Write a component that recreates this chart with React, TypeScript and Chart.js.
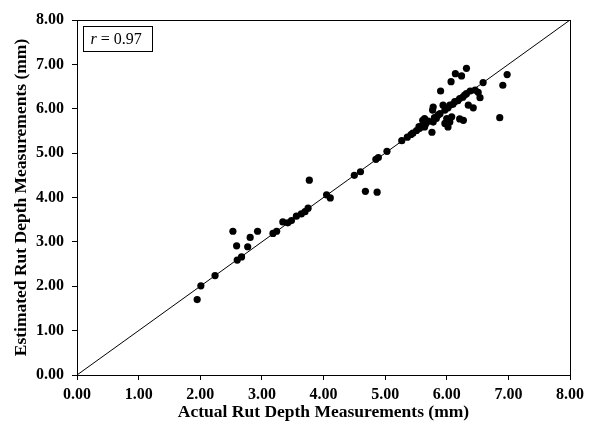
import React, { useEffect, useRef } from "react";
import { Chart, registerables } from "chart.js";

Chart.register(...registerables);

const actual = [
  1.95, 2.01, 2.24, 2.53, 2.59, 2.6, 2.67, 2.77, 2.81, 2.93, 3.18, 3.24, 3.34, 3.42, 3.48, 3.56, 3.64, 3.7, 3.75,
  3.77, 4.05, 4.11, 4.5, 4.6, 4.68, 4.87, 4.85, 4.89, 5.03, 5.27, 5.36, 5.42, 5.51, 5.56, 5.6, 5.62, 5.61, 5.64,
  5.62, 5.64, 5.66, 5.76, 5.78, 5.77, 5.78, 5.83, 5.8, 5.86, 5.9, 5.89, 5.94, 5.97, 5.97, 6.0, 6.02, 6.02, 6.05,
  6.07, 6.08, 6.1, 6.14, 6.13, 6.18, 6.21, 6.21, 6.24, 6.26, 6.27, 6.29, 6.32, 6.32, 6.35, 6.38, 6.43, 6.46, 6.51,
  6.54, 6.59, 6.86, 6.91, 6.98, 5.7, 5.55, 5.45, 6.05,
];
const estimated = [
  1.7, 2.01, 2.24, 3.24, 2.91, 2.59, 2.66, 2.89, 3.1, 3.24, 3.19, 3.24, 3.45, 3.43, 3.48, 3.58, 3.63, 3.68, 3.76,
  4.39, 4.06, 3.99, 4.5, 4.58, 4.14, 4.12, 4.86, 4.9, 5.04, 5.28, 5.36, 5.42, 5.51, 5.56, 5.6, 5.65, 5.74, 5.78,
  5.7, 5.59, 5.66, 5.47, 6.04, 5.97, 5.7, 5.78, 5.8, 5.86, 6.4, 5.89, 6.08, 5.97, 5.67, 5.78, 5.59, 6.02, 6.08,
  6.61, 5.82, 6.1, 6.79, 6.16, 6.18, 6.23, 5.77, 6.74, 6.26, 5.74, 6.31, 6.91, 6.34, 6.08, 6.4, 6.02, 6.42, 6.37,
  6.25, 6.59, 5.8, 6.53, 6.77, 5.72, 5.6, 5.45, 5.7,
];
const lineEnds = [0, 8];
const correlationLabel = "0.97";
const xTitle = "Actual Rut Depth Measurements (mm)";
const yTitle = "Estimated Rut Depth Measurements (mm)";

const FONT = "'Liberation Serif', 'Times New Roman', serif";

export default function App() {
  const ref = useRef<HTMLCanvasElement>(null);
  useEffect(() => {
    if (!ref.current) return;
    const framePlugin = {
      id: "frame",
      afterDraw(chart: any) {
        const { ctx, chartArea } = chart;
        ctx.save();
        ctx.strokeStyle = "#000";
        ctx.lineWidth = 1;
        ctx.strokeRect(Math.round(chartArea.left) + 0.5, Math.round(chartArea.top) + 0.5,
          Math.round(chartArea.right - chartArea.left), Math.round(chartArea.bottom - chartArea.top));
        // r box
        const bx = Math.round(chartArea.left) + 6.5;
        const by = Math.round(chartArea.top) + 6.5;
        const bw = 69;
        const bh = 25;
        ctx.fillStyle = "#fff";
        ctx.fillRect(bx, by, bw, bh);
        ctx.strokeRect(bx, by, bw, bh);
        ctx.fillStyle = "#000";
        ctx.textBaseline = "middle";
        ctx.textAlign = "left";
        ctx.font = `italic 16px ${FONT}`;
        const tx = bx + 7;
        const ty = by + bh / 2 + 1;
        ctx.fillText("r", tx, ty);
        const rw = ctx.measureText("r").width;
        ctx.font = `16px ${FONT}`;
        ctx.fillText(" = " + correlationLabel, tx + rw, ty);
        ctx.restore();
      },
    };
    const axisCommon = {
      type: "linear" as const,
      min: 0,
      max: 8,
      ticks: {
        stepSize: 1,
        color: "#000",
        font: { family: FONT, size: 16, weight: "bold" as const },
        callback: (v: any) => Number(v).toFixed(2),
      },
      grid: { drawOnChartArea: false, drawTicks: true, tickLength: 5, color: "#000" },
      border: { display: true, color: "#000", width: 1 },
    };
    const chart = new Chart(ref.current, {
      type: "scatter",
      data: {
        datasets: [
          {
            type: "line",
            data: lineEnds.map((v) => ({ x: v, y: v })),
            borderColor: "#000",
            borderWidth: 1,
            pointRadius: 0,
            fill: false,
          } as any,
          {
            data: actual.map((x, i) => ({ x, y: estimated[i] })),
            backgroundColor: "#000",
            borderWidth: 0,
            pointRadius: 3.6,
          },
        ],
      },
      options: {
        animation: false,
        responsive: false,
        maintainAspectRatio: false,
        layout: { padding: { top: 20, right: 22, left: 0, bottom: 0 } },
        plugins: { legend: { display: false }, tooltip: { enabled: false } },
        scales: {
          x: {
            ...axisCommon,
            ticks: { ...axisCommon.ticks, padding: 5 },
            title: { display: true, text: xTitle, color: "#000", font: { family: FONT, size: 17.5, weight: "bold" }, padding: { top: 0, bottom: 5 } },
            afterFit: (s: any) => { s.height = 53; },
          },
          y: {
            ...axisCommon,
            ticks: { ...axisCommon.ticks, padding: 8 },
            title: { display: true, text: yTitle, color: "#000", font: { family: FONT, size: 17.5, weight: "bold" }, padding: { top: 11, bottom: 0 } },
            afterFit: (s: any) => { s.width = 77; },
          },
        },
      },
      plugins: [framePlugin],
    });
    return () => chart.destroy();
  }, []);
  return (
    <div style={{ position: "absolute", left: 0, top: 0, width: 592, height: 428, background: "#fff" }}>
      <canvas ref={ref} width={592} height={428} style={{ width: 592, height: 428 }} />
    </div>
  );
}
